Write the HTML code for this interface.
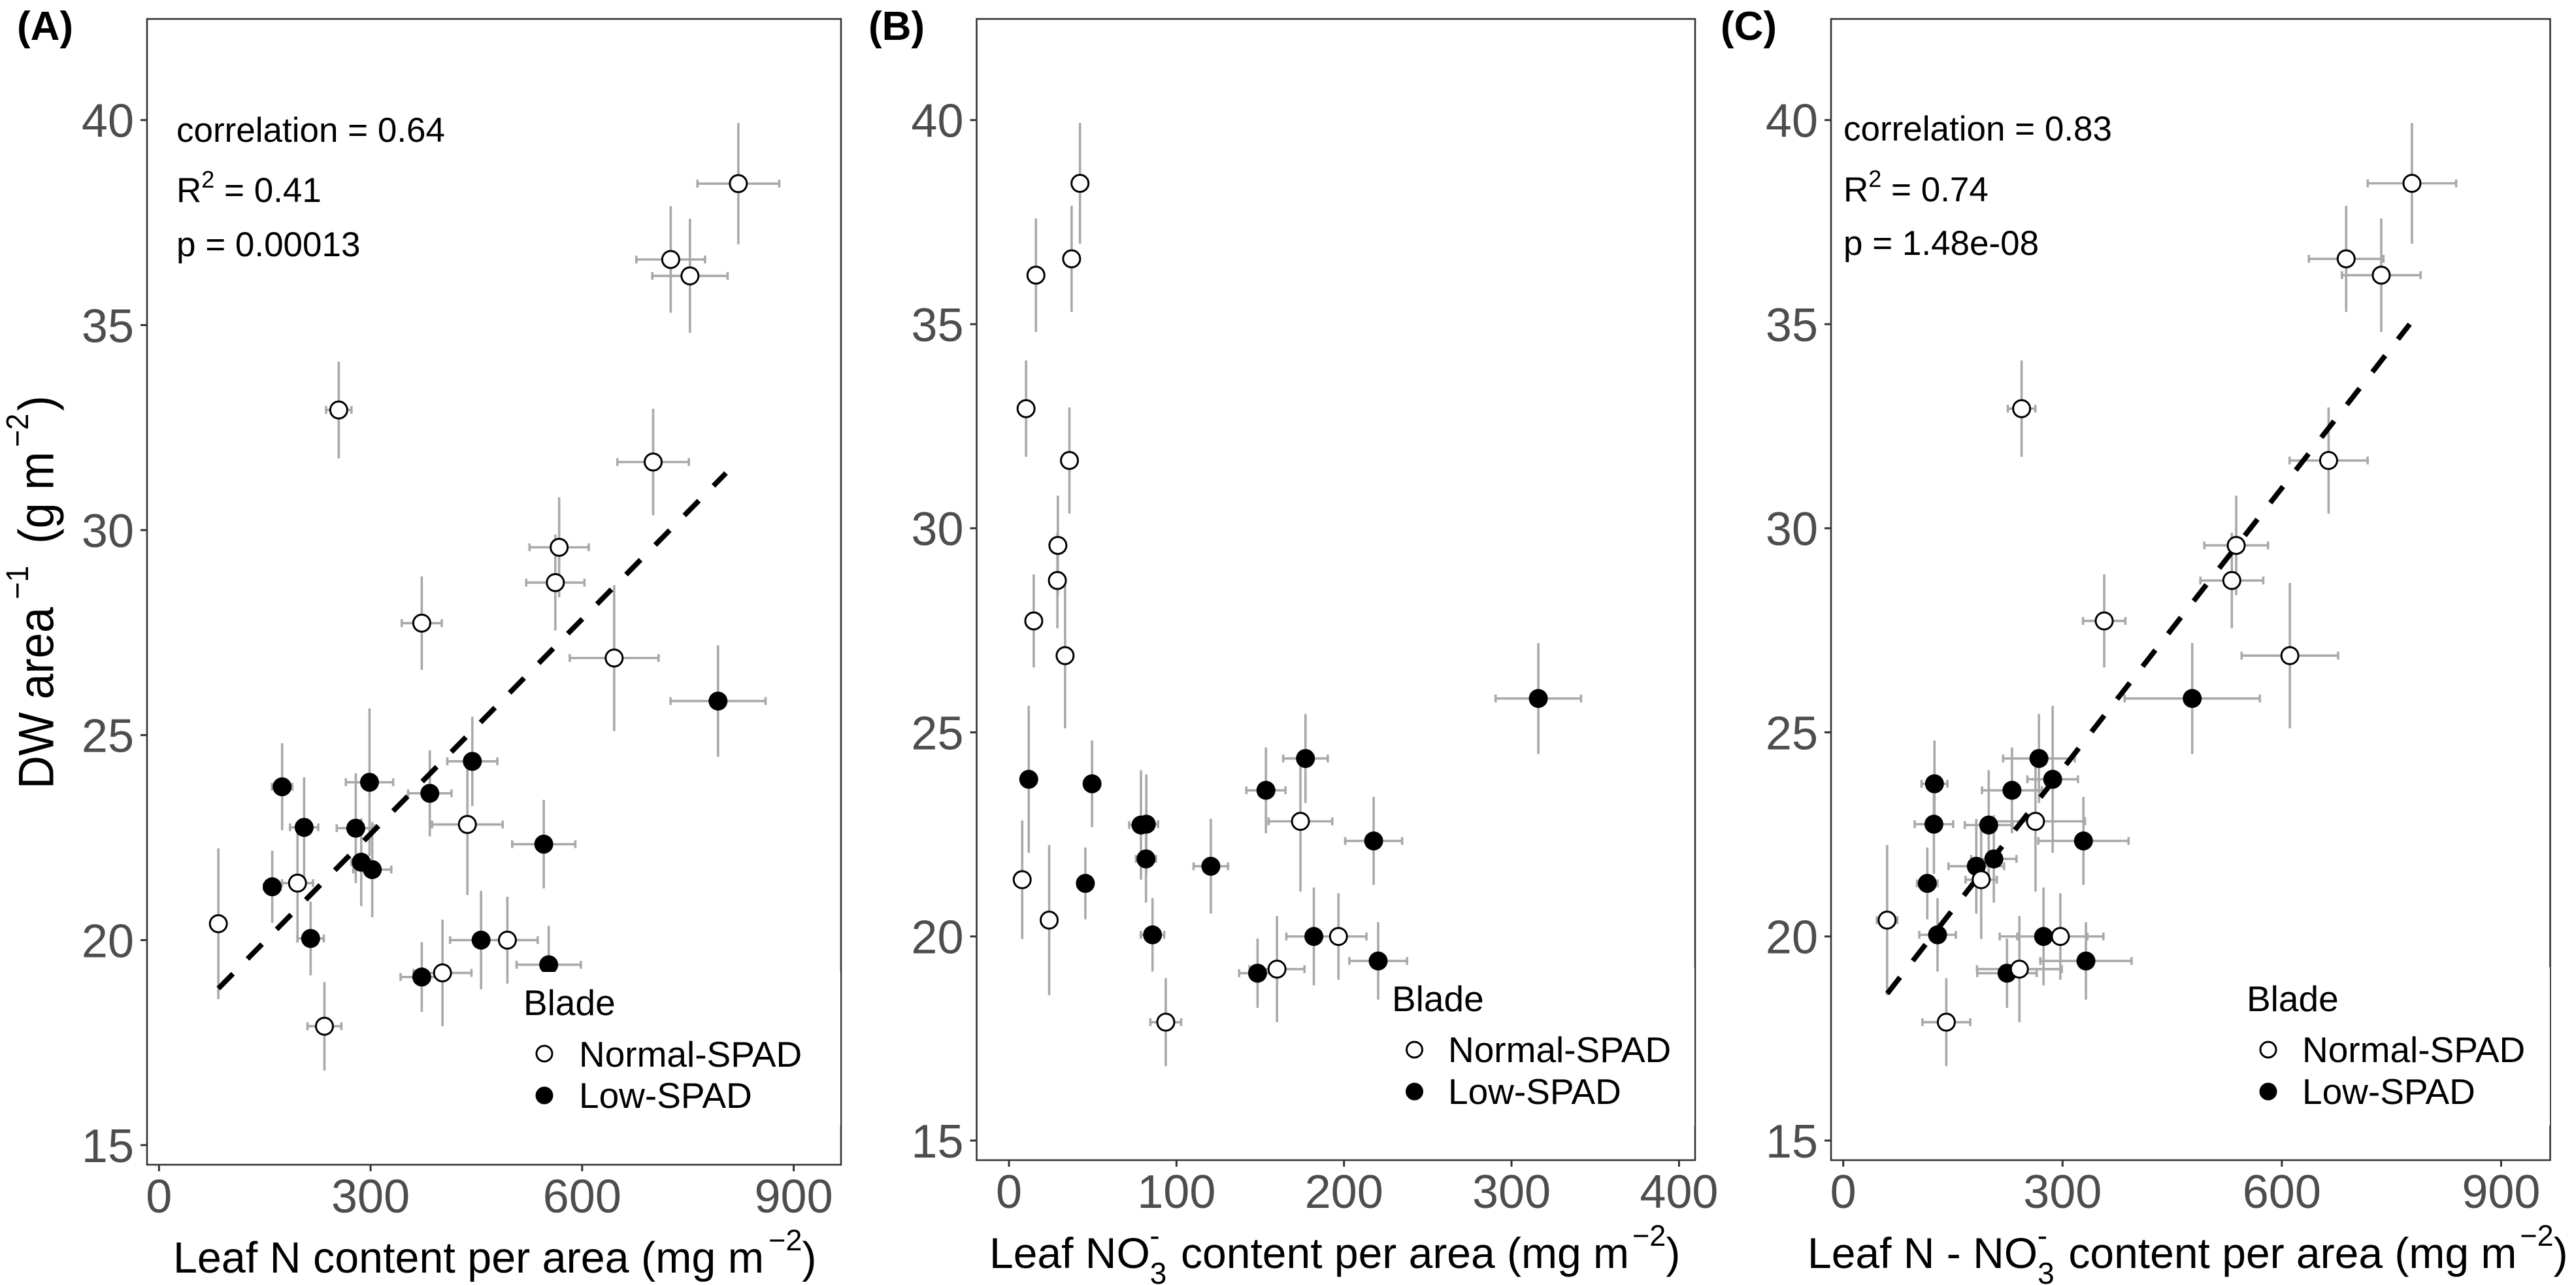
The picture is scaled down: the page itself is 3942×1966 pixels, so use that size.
<!DOCTYPE html>
<html lang="en">
<head>
<meta charset="utf-8">
<title>Leaf dry weight per area versus leaf nitrogen</title>
<style>
html,body{margin:0;padding:0;background:#fff;}
svg{display:block;font-family:"Liberation Sans",Arial,sans-serif;}
.tick-label{font-size:72px;fill:#4d4d4d;}
.axis-title{font-size:66.4px;fill:#000;}
.stat{font-size:53px;fill:#000;}
.legend-text{font-size:55px;fill:#000;}
.panel-tag{font-size:62px;font-weight:bold;fill:#000;}
</style>
</head>
<body>
<svg id="figure" xmlns="http://www.w3.org/2000/svg" width="3942" height="1966" viewBox="0 0 3942 1966">
  <rect x="0" y="0" width="3942" height="1966" fill="#fff"/>

  <!-- Panel A -->
  <g>
    <g id="axes-a"></g>
    <g id="marks-a"></g>
    <rect x="787" y="1487" width="499" height="235" fill="#fff"/>
    <text class="panel-tag" x="26" y="61">(A)</text>
    <text class="axis-title" transform="translate(81.7,1207) rotate(-90) scale(1,1.08)" style="font-size:70.5px">DW area<tspan dx="12" dy="-36" font-size="45">−1</tspan><tspan dx="14" dy="36"> (g m</tspan><tspan dx="7" dy="-36" font-size="45">−2</tspan><tspan dx="4" dy="36">)</tspan></text>
    <text class="axis-title" x="265" y="1947">Leaf N content per area (mg m<tspan dx="7" dy="-34" font-size="45">−2</tspan><tspan dy="34">)</tspan></text>
    <text class="stat" x="270" y="217">correlation = 0.64</text>
    <text class="stat" x="270" y="309">R<tspan dy="-22" font-size="36">2</tspan><tspan dy="22"> = 0.41</tspan></text>
    <text class="stat" x="270" y="392">p = 0.00013</text>
    <g>
      <text class="legend-text" x="801" y="1553">Blade</text>
      <circle cx="833" cy="1612" r="12" fill="#fff" stroke="#000" stroke-width="3"/>
      <text class="legend-text" x="886" y="1632">Normal-SPAD</text>
      <circle cx="833" cy="1676" r="13.5" fill="#000"/>
      <text class="legend-text" x="886" y="1695">Low-SPAD</text>
    </g>
  </g>

  <!-- Panel B -->
  <g>
    <g id="axes-b"></g>
    <g id="marks-b"></g>
    <rect x="2120" y="1480" width="473" height="242" fill="#fff"/>
    <text class="panel-tag" x="1329" y="61">(B)</text>
    <text class="axis-title" x="1514" y="1940" style="font-size:66px">Leaf NO<tspan dy="24" font-size="46">3</tspan><tspan dx="-26" dy="-58" font-size="46">-</tspan><tspan dx="14" dy="34"> content per area (mg m</tspan><tspan dx="5" dy="-34" font-size="45">−2</tspan><tspan dy="34">)</tspan></text>
    <g>
      <text class="legend-text" x="2130" y="1547">Blade</text>
      <circle cx="2164.5" cy="1606" r="12" fill="#fff" stroke="#000" stroke-width="3"/>
      <text class="legend-text" x="2216" y="1625">Normal-SPAD</text>
      <circle cx="2164.5" cy="1670" r="13.5" fill="#000"/>
      <text class="legend-text" x="2216" y="1689">Low-SPAD</text>
    </g>
  </g>

  <!-- Panel C -->
  <g>
    <g id="axes-c"></g>
    <g id="marks-c"></g>
    <rect x="3430" y="1480" width="472" height="242" fill="#fff"/>
    <text class="panel-tag" x="2633" y="61">(C)</text>
    <text class="axis-title" x="2766" y="1940" style="font-size:66px">Leaf N - NO<tspan dy="24" font-size="46">3</tspan><tspan dx="-26" dy="-58" font-size="46">-</tspan><tspan dx="14" dy="34"> content per area (mg m</tspan><tspan dx="5" dy="-34" font-size="45">−2</tspan><tspan dy="34">)</tspan></text>
    <text class="stat" x="2821" y="215">correlation = 0.83</text>
    <text class="stat" x="2821" y="308">R<tspan dy="-22" font-size="36">2</tspan><tspan dy="22"> = 0.74</tspan></text>
    <text class="stat" x="2821" y="390">p = 1.48e-08</text>
    <g>
      <text class="legend-text" x="3438" y="1547">Blade</text>
      <circle cx="3471" cy="1606" r="12" fill="#fff" stroke="#000" stroke-width="3"/>
      <text class="legend-text" x="3523" y="1625">Normal-SPAD</text>
      <circle cx="3471" cy="1670" r="13.5" fill="#000"/>
      <text class="legend-text" x="3523" y="1689">Low-SPAD</text>
    </g>
  </g>
</svg>

<script>
// ---- Shared response values (DW area^-1, g m^-2) ----
var normalDW    = [38.45,36.6,36.2,32.93,31.66,29.58,28.72,27.73,26.88,22.82,21.39,20.4,20.0,19.2,17.9];
var normalDWErr = [1.48,1.30,1.39,1.18,1.30,1.22,1.17,1.14,1.78,1.72,1.45,1.84,1.06,1.30,1.08];
var lowDW       = [25.83,24.36,23.74,23.85,23.58,22.75,22.73,22.34,21.9,21.72,21.3,20.04,20.0,19.4,19.1];
var lowDWErr    = [1.36,1.09,1.06,1.80,1.05,1.22,1.34,1.08,1.07,1.16,0.88,0.90,1.20,0.95,0.85];

// ---- Panel A: leaf N ----
var normalNitrogen    = [821.5,725.6,752.9,254.9,700.7,567.4,562,372.6,645.4,437.3,196.4,84.2,494,402,234.6];
var normalNitrogenErr = [58,48.7,53.4,18,50.7,42,41.3,28.4,63,50,22,9,43,41,24];
var lowNitrogen       = [792.7,444.3,174.6,298.5,384,205.8,279,545.6,286.8,302.4,160.6,215,456.7,552.6,372.6];
var lowNitrogenErr    = [67.4,35.5,14.4,33.5,30.8,20,27,44.8,14,27,12,18.7,44,45.6,30];

// ---- Panel B: leaf nitrate ----
var normalNitrate    = [42.4,37.4,16.1,10.2,36.1,29.2,28.9,14.8,33.5,174,7.9,24,196.7,160,93.6];
var normalNitrateErr = [3,3,3,3,3,3,3,3,3,19,3,3,16.7,16.4,9.2];
var lowNitrate       = [316,177,49.6,11.8,153.4,82,78.8,217.7,81.8,120.5,45.6,85.7,182,220.4,148.4];
var lowNitrateErr    = [25.5,13.3,3,3,11.7,7,7,17,6,10.3,3,7,16.4,17.2,11];

// ---- Panel C: leaf N minus nitrate ----
var normalReduced    = [778,688,736,244,664,537.6,531.6,357,611,263,188.7,60,297,241,141];
var normalReducedErr = [60.5,51,53.8,18.8,53.4,43.6,43,29,66,67.7,21.4,14,59,58,32.7];
var lowReduced       = [477.4,267.7,124.8,286.5,230.8,124,199,328.6,206,182,115,129,274,332,224];
var lowReducedErr    = [92.5,49,17.7,34.6,41,26.3,32.7,61.7,31,38,14,25,60,62.4,40.6];

// ---- Regression lines (x, DW at each end) ----
var fitNitrogenX = [84.2,804];
var fitNitrogenY = [18.82,31.39];
var fitReducedX  = [60.2,775];
var fitReducedY  = [18.6,35.0];

// ---- Tick labels ----
var dwTicks       = [15,20,25,30,35,40];
var nitrogenTicks = [0,300,600,900];
var nitrateTicks  = [0,100,200,300,400];
var reducedTicks  = [0,300,600,900];

var SVG_NS = 'http://www.w3.org/2000/svg';
function make(tag, attrs, parent) {
  var el = document.createElementNS(SVG_NS, tag);
  for (var k in attrs) { el.setAttribute(k, attrs[k]); }
  parent.appendChild(el);
  return el;
}
function scale(domain, range) {
  return function (v) {
    return range[0] + (v - domain[0]) * (range[1] - range[0]) / (domain[1] - domain[0]);
  };
}

function drawAxes(key, frame, xScale, yScale, xTicks, yTicks) {
  var g = document.getElementById('axes-' + key);
  var border = make('rect', {x: frame.left, y: frame.top, width: frame.right - frame.left, height: frame.bottom - frame.top, fill: '#fff', stroke: '#333', 'stroke-width': 2.6}, g);
  
  
  yTicks.forEach(function (t) {
    var y = yScale(t);
    var mark = make('line', {x1: frame.left - 10, x2: frame.left, y1: y, y2: y, stroke: '#333', 'stroke-width': 3}, g);
    
    
    var label = make('text', {x: frame.left - 20, y: y + 26, 'text-anchor': 'end', 'class': 'tick-label'}, g);
    
    
    label.textContent = String(t);
  });
  xTicks.forEach(function (t) {
    var x = xScale(t);
    var mark = make('line', {x1: x, x2: x, y1: frame.bottom, y2: frame.bottom + 10, stroke: '#333', 'stroke-width': 3}, g);
    
    
    var label = make('text', {x: x, y: frame.tickBaseline, 'text-anchor': 'middle', 'class': 'tick-label'}, g);
    
    
    label.textContent = String(t);
  });
}

function drawErrors(g, xs, xErr, ys, yErr, xScale, yScale) {
  xs.forEach(function (xv, i) {
    var cy = yScale(ys[i]);
    var cx = xScale(xv);
    var vert = make('line', {x1: cx, x2: cx, y1: yScale(ys[i] + yErr[i]), y2: yScale(ys[i] - yErr[i]), stroke: '#a9a9a9', 'stroke-width': 3.6}, g);
    
    
    var x0 = xScale(xv - xErr[i]);
    var x1 = xScale(xv + xErr[i]);
    var horiz = make('line', {x1: x0, x2: x1, y1: cy, y2: cy, stroke: '#a9a9a9', 'stroke-width': 3.6}, g);
    
    
    [x0, x1].forEach(function (cap) {
      var c = make('line', {x1: cap, x2: cap, y1: cy - 6, y2: cy + 6, stroke: '#a9a9a9', 'stroke-width': 3.6}, g);
      
      
    });
  });
}

function drawPoints(g, xs, ys, xScale, yScale, isLow) {
  xs.forEach(function (xv, i) {
    var attrs = isLow
      ? {cx: xScale(xv), cy: yScale(ys[i]), r: 14.5, fill: '#000'}
      : {cx: xScale(xv), cy: yScale(ys[i]), r: 13, fill: '#fff', stroke: '#000', 'stroke-width': 3};
    var dot = make('circle', attrs, g);
    
    
  });
}

function drawFit(g, fx, fy, xScale, yScale) {
  var line = make('line', {x1: xScale(fx[0]), y1: yScale(fy[0]), x2: xScale(fx[1]), y2: yScale(fy[1]), stroke: '#000', 'stroke-width': 7.9, 'stroke-dasharray': '31.75 31.75'}, g);
  
  
}

function drawPanel(key, frame, xDomain, xRange, yDomain, yRange, xTicks, nX, nXErr, lX, lXErr, fitX, fitY) {
  var xScale = scale(xDomain, xRange);
  var yScale = scale(yDomain, yRange);
  drawAxes(key, frame, xScale, yScale, xTicks, dwTicks);
  var g = document.getElementById('marks-' + key);
  drawErrors(g, nX, nXErr, normalDW, normalDWErr, xScale, yScale);
  drawErrors(g, lX, lXErr, lowDW, lowDWErr, xScale, yScale);
  if (fitX) { drawFit(g, fitX, fitY, xScale, yScale); }
  drawPoints(g, lX, lowDW, xScale, yScale, true);
  drawPoints(g, nX, normalDW, xScale, yScale, false);
}

drawPanel('a', {left: 225, right: 1287, top: 29, bottom: 1782, tickBaseline: 1855},
  [0, 900], [243.3, 1214.6], [15, 40], [1752, 183.7],
  nitrogenTicks, normalNitrogen, normalNitrogenErr, lowNitrogen, lowNitrogenErr, fitNitrogenX, fitNitrogenY);

drawPanel('b', {left: 1494.5, right: 2594, top: 29, bottom: 1775, tickBaseline: 1848},
  [0, 400], [1544, 2569.4], [15, 40], [1745, 183.7],
  nitrateTicks, normalNitrate, normalNitrateErr, lowNitrate, lowNitrateErr, null, null);

drawPanel('c', {left: 2802, right: 3902.5, top: 29, bottom: 1775, tickBaseline: 1848},
  [0, 900], [2820.7, 3827.4], [15, 40], [1745, 183.7],
  reducedTicks, normalReduced, normalReducedErr, lowReduced, lowReducedErr, fitReducedX, fitReducedY);
</script>
</body>
</html>
